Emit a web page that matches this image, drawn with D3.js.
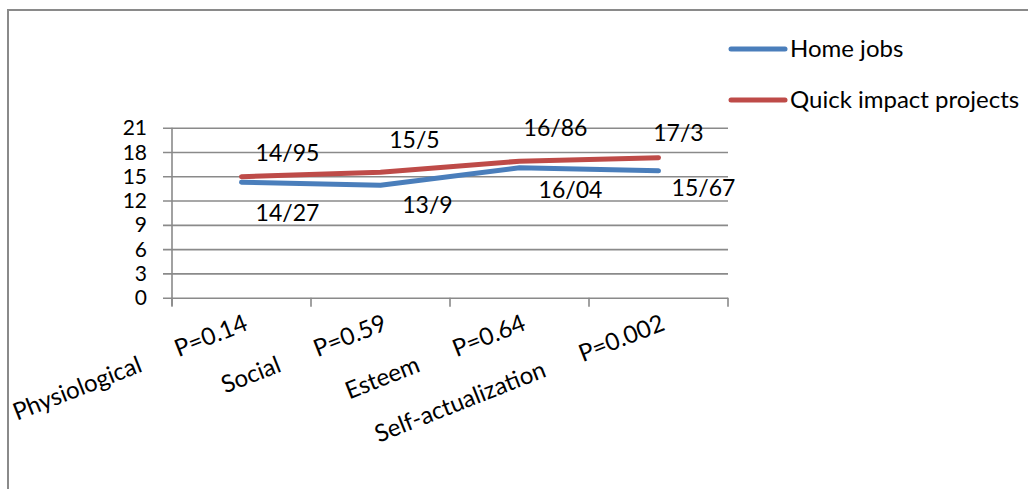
<!DOCTYPE html>
<html>
<head>
<meta charset="utf-8">
<script src="https://cdn.jsdelivr.net/npm/d3@7"></script>
<style>
  html, body { margin: 0; padding: 0; background: #fff; }
  svg { display: block; }
  text { font-family: Lato, "Open Sans", sans-serif; fill: #000; }
</style>
</head>
<body>
<svg id="chart" width="1028" height="489"></svg>
<script>
// Need-level categories and their significance notes
const categories = ["Physiological", "Social", "Esteem", "Self-actualization"];
const pValues = ["P=0.14", "P=0.59", "P=0.64", "P=0.002"];

// Mean scores per group
const homeJobs = [14.27, 13.9, 16.04, 15.67];
const quickImpact = [14.95, 15.5, 16.86, 17.3];

const seriesNames = ["Home jobs", "Quick impact projects"];
const yTicks = [0, 3, 6, 9, 12, 15, 18, 21];

// Label nudges (px) relative to each point
const homeLabelShift = [[46, 31], [47, 20], [51, 22], [45, 17]];
const quickLabelShift = [[46, -24], [34, -32], [36, -33], [20, -25]];

const series = [
  { name: seriesNames[0], values: homeJobs, color: "#4a7ebb", shift: homeLabelShift },
  { name: seriesNames[1], values: quickImpact, color: "#be4b48", shift: quickLabelShift }
];

const svg = d3.select("#chart");

const frame = { x: 8, y: 10, w: 1040, h: 500 };

// everything is clipped to the chart frame
svg.append("defs").append("clipPath")
  .attr("id", "frame-clip")
  .append("rect")
  .attr("x", frame.x).attr("y", frame.y)
  .attr("width", frame.w).attr("height", frame.h);

const root = svg.append("g").attr("clip-path", "url(#frame-clip)");

const plot = { left: 172, right: 728, top: 127.7, bottom: 297.7 };

const x = d3.scalePoint()
  .domain(categories)
  .range([plot.left, plot.right])
  .padding(0.5);

const y = d3.scaleLinear()
  .domain([0, 21])
  .range([plot.bottom, plot.top]);

// horizontal gridlines with left tick stubs
const yAxis = d3.axisLeft(y)
  .tickValues(yTicks)
  .tickSize(-(plot.right - plot.left))
  .tickSizeOuter(0)
  .tickPadding(25)
  .tickFormat(d3.format("d"));

const gy = root.append("g")
  .attr("transform", `translate(${plot.left},0)`)
  .call(yAxis);
gy.select(".domain").remove();
gy.selectAll(".tick line")
  .attr("x1", -9)
  .attr("stroke", "#8a8a8a")
  .attr("stroke-width", 1.6);
gy.selectAll(".tick text")
  .style("font-size", "21px")
  .attr("dy", "0.34em");

// vertical axis line
root.append("line")
  .attr("x1", plot.left).attr("x2", plot.left)
  .attr("y1", plot.top).attr("y2", plot.bottom + 8)
  .attr("stroke", "#8a8a8a").attr("stroke-width", 1.6);

// category boundary ticks below the x axis
const bandStep = x.step();
const boundaries = d3.range(categories.length + 1).map(i => plot.left + i * bandStep);
root.append("g").selectAll("line")
  .data(boundaries)
  .join("line")
  .attr("x1", d => d).attr("x2", d => d)
  .attr("y1", plot.bottom).attr("y2", plot.bottom + 9)
  .attr("stroke", "#8a8a8a").attr("stroke-width", 1.6);

// rotated category labels with p-values
const xl = root.append("g").selectAll("text")
  .data(categories)
  .join("text")
  .attr("transform", d => `translate(${x(d) + 1},${plot.bottom + 15}) rotate(-21.5)`)
  .attr("text-anchor", "end")
  .attr("dy", "0.75em")
  .style("font-size", "24px");
xl.append("tspan").text(d => d);
xl.append("tspan").attr("dx", 38).text((d, i) => pValues[i]);

// series lines
const line = d3.line()
  .x((d, i) => x(categories[i]))
  .y(d => y(d));

root.append("g").selectAll("path")
  .data(series)
  .join("path")
  .attr("d", s => line(s.values))
  .attr("fill", "none")
  .attr("stroke", s => s.color)
  .attr("stroke-width", 5)
  .attr("stroke-linecap", "round")
  .attr("stroke-linejoin", "round");

// value labels, decimal written with a slash
series.forEach(s => {
  root.append("g").selectAll("text")
    .data(s.values)
    .join("text")
    .attr("x", (d, i) => x(categories[i]) + s.shift[i][0])
    .attr("y", (d, i) => y(d) + s.shift[i][1])
    .attr("text-anchor", "middle")
    .attr("dy", "0.35em")
    .style("font-size", "23px")
    .text(d => String(d).replace(".", "/"));
});

// legend
const legend = root.append("g").selectAll("g")
  .data(series)
  .join("g")
  .attr("transform", (d, i) => `translate(731,${49 + i * 51})`);
legend.append("line")
  .attr("x1", 0).attr("x2", 54)
  .attr("stroke", d => d.color)
  .attr("stroke-width", 5)
  .attr("stroke-linecap", "round");
legend.append("text")
  .attr("x", 59)
  .attr("dy", "0.35em")
  .style("font-size", "24px")
  .text(d => d.name);

// outer chart frame (runs past the right and bottom edges)
svg.append("rect")
  .attr("x", frame.x).attr("y", frame.y)
  .attr("width", frame.w).attr("height", frame.h)
  .attr("fill", "none")
  .attr("stroke", "#8a8a8a")
  .attr("stroke-width", 2);
</script>
</body>
</html>
